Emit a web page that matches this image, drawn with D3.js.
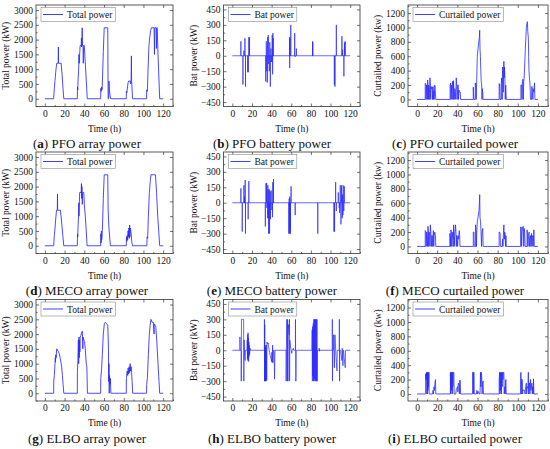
<!DOCTYPE html>
<html>
<head>
<meta charset="utf-8">
<script src="https://cdn.jsdelivr.net/npm/d3@7"></script>
<style>
  body { margin: 0; background: #fff; }
  svg, svg text { font-family: 'Liberation Serif', 'DejaVu Serif', serif !important; fill: #111; }
</style>
</head>
<body>
<svg id="chart" width="550" height="449" font-family="Liberation Serif"></svg>
<script>
// ---- data: [time h, power kW] ----
var pfoArray = [[0,0],[8.9,0],[9.6,350],[10.3,620],[11,900],[12,1200],[13.5,1200],[13.7,1750],[13.9,1200],[16.5,1200],[17.5,800],[18.4,350],[19.2,0],
  [32.9,0],[33.1,400],[33.4,300],[33.6,600],[34.3,1000],[34.6,1500],[34.9,1200],[35.3,1500],[35.8,1800],[36.8,1800],[37.1,2050],[37.3,1750],[37.9,2400],[38.2,1800],[38.7,1800],[39,1200],[39.4,1800],[40,1800],[40.5,1500],[41.2,1100],[42.2,500],[43,0],
  [56.6,0],[56.8,350],[57.2,250],[57.5,400],[58,300],[58.4,600],[59.3,1600],[60.2,2400],[63.8,2400],[64,1200],[64.2,0],[64.8,0],[65,600],[65.5,300],[66.2,100],[66.9,0],
  [82.6,0],[82.7,250],[83.2,200],[84,450],[84.5,550],[85,600],[86.5,600],[87,500],[87.5,650],[87.8,1450],[88,600],[88.5,300],[89,0],
  [103.2,0],[103.3,300],[104,250],[104.6,900],[105.6,1800],[106.5,2100],[107.3,2300],[108,2400],[110.8,2400],[111.2,1500],[111.5,2400],[112.8,2400],[113.2,1700],[113.5,2400],[114,2400],[114.8,1500],[115.7,700],[116.5,0],[120,0]]

var mecoArray = [[0,0],[8.9,0],[9.6,350],[10.3,600],[11,900],[11.8,1200],[12.6,1200],[12.8,1750],[13,1200],[15.8,1200],[17,800],[18.2,350],[19.2,0],
  [32.9,0],[33.1,400],[33.4,300],[33.7,700],[34.2,1000],[34.4,1450],[34.6,1000],[34.9,1300],[35.3,1800],[36.8,1800],[37.1,2100],[37.3,1600],[37.6,2000],[38,1400],[38.3,1800],[39.5,1800],[40,1400],[41,1000],[42,500],[42.8,0],
  [56.6,0],[56.8,400],[57.1,100],[57.3,500],[57.6,200],[58,300],[58.5,700],[59.3,1600],[60.2,2400],[63.8,2400],[64.2,1200],[65,600],[66.5,0],
  [82.6,0],[82.8,300],[83.2,150],[83.6,350],[84,200],[84.4,500],[84.8,300],[85.2,600],[85.6,250],[86,700],[86.3,300],[86.8,600],[87.5,400],[88.3,100],[89,0],
  [103.5,0],[103.7,300],[104.3,250],[105,1000],[106,1800],[107,2200],[107.6,2400],[112.2,2400],[113.3,1800],[114.5,1000],[115.5,500],[116.5,0],[120,0]]

var elboArray = [[0,0],[8.9,0],[9,400],[9.6,600],[10.3,1000],[10.6,1200],[10.8,1050],[11.1,1300],[11.4,1200],[12,1500],[12.5,1480],[13.5,1420],[14.5,1350],[15.5,1200],[16.3,1050],[17,900],[17.8,600],[18.5,300],[19.2,0],
  [32.9,0],[33,700],[33.5,1100],[34,1800],[34.3,1000],[34.6,1900],[34.9,1200],[35.2,1800],[35.5,1400],[35.8,1900],[36.5,1950],[37.2,2050],[38,2100],[38.5,1500],[38.8,1900],[39.5,1800],[40.3,1750],[41,1500],[42,1000],[42.6,900],[43.2,0],
  [56.6,0],[56.7,500],[57.5,800],[58.3,1300],[59.3,2000],[60.3,2350],[61.4,2400],[62.7,2350],[63.8,2300],[64.5,1600],[64.8,400],[65,1000],[65.3,0],[65.6,600],[66,300],[66.5,500],[67,0],
  [82.6,0],[82.7,500],[83.5,750],[84,600],[84.5,850],[85,650],[85.5,900],[86,700],[86.5,1000],[87,750],[87.5,900],[88,700],[88.5,400],[89.1,0],
  [103.2,0],[103.3,300],[104,500],[105,1300],[106,2000],[106.8,2300],[107.6,2500],[108.7,2400],[110,2400],[110.8,2000],[111,2350],[112,2300],[112.5,2250],[113.5,1800],[114.8,1000],[115.8,400],[116.5,0],[120,0]]

// battery spikes from the zero line: [time h, kW]
var pfoBat = [[8.7,140],[10.8,-280],[11.8,50],[12.8,170],[13.4,-300],[15.8,-160],[16.1,-160],[16.8,180],[17.5,180],
  [34,-250],[34.6,140],[35,-150],[35.6,-260],[36,180],[36.6,200],[37,-80],[37.6,-150],[38.1,130],[38.7,-300],[39.3,70],[39.6,-60],[40.3,-60],[40.6,200],[41,-180],[41.3,220],[41.6,170],
  [58.2,180],[58.4,-120],[58.6,170],[59.5,300],[63.5,220],[64,-10],[65.2,70],
  [81.7,140],[81.9,130],
  [103.9,-280],[104.5,-300],[105.9,300],[111.6,190],[112.3,60],[113.6,-200],[114.2,130],[115,140]]

var mecoBat = [[8.7,140],[10.1,-280],[11.8,170],[12.4,60],[13.1,220],[13.4,-300],[16.1,-160],[16.8,210],
  [33.6,-230],[34.3,190],[34.9,190],[35.2,-50],[35.9,-150],[36.2,170],[36.5,130],[36.9,-300],[37.2,-150],[37.6,130],[37.9,-300],[38.5,110],[38.9,-160],[39.5,120],[40.2,-70],[40.9,-140],[41.2,200],[41.9,230],
  [57.5,-300],[57.9,40],[58.2,-300],[58.5,60],[58.9,-250],[59.2,-300],[59.8,160],[64,-120],
  [87,-300],
  [103.5,-280],[104.1,-280],[105.2,200],[105.9,-80],[107.9,100],[108.9,-50],[109.3,-100],[109.9,170],[110.6,-210],[111.2,170],[111.9,-150],[112.2,80],[112.6,-120],[112.9,170],[113.5,-80],[114,160]]

var elboBat = [[0,0],[7.7,0],[7.7,130],[8,0],[9,0],[9.1,-300],[9.3,300],[11.5,300],[11.7,-300],[12,100],[12.5,-50],[13,-100],[13.4,0],
  [15,0],[15.2,100],[15.4,-80],[15.6,150],[15.8,-100],[16,170],[16.2,-90],[16.4,120],[16.6,-110],[16.8,80],[17,-60],[17.3,50],[17.6,-40],[18,20],[18.5,0],
  [32.6,0],[32.7,300],[32.8,-300],[33,250],[33.2,-300],[33.4,50],[33.6,-300],[33.8,30],[34,-300],[34.2,0],[34.4,-300],[34.6,50],[35,-290],[35.3,80],[36,60],[36.5,70],[37,30],[37.5,0],[38,-20],[38.5,-50],[39,-70],[39.5,-90],[40,-110],[40.3,-20],[40.6,-120],[41,50],[41.3,-120],[41.8,0],[42.5,0],[43,-280],[43.4,0],
  [54.8,0],[54.8,-300],[55,0],[55.5,300],[56,-300],[56.3,300],[56.6,-300],[57,250],[57.5,200],[58,150],[58.2,300],[58.3,-300],[58.5,100],[59,60],[59.5,20],[60,0],[60.5,-30],[61,0],[62.2,20],[62.5,0],[64.2,0],[64.3,300],[64.5,-300],[64.9,-300],[65.1,0],
  [81,0],[81.3,200],[81.5,-300],[81.8,230],[82.1,-250],[82.4,260],[82.7,-300],[83,300],[83.3,-300],[83.6,300],[83.9,-280],[84.2,300],[84.5,-300],[84.8,300],[85.2,-300],[85.5,300],[85.9,-300],[86.2,300],[86.4,-300],[86.6,0],[88.4,0],[88.5,20],[88.7,-10],[89,0],
  [101.8,0],[101.8,300],[102,-300],[102.2,0],[103,0],[103.2,150],[103.5,0],[103.9,-170],[104.2,0],[104.5,150],[105,50],[105.5,-50],[106,-120],[106.6,-200],[106.8,0],[108.8,0],[109,300],[109.2,-300],[109.4,0],[110.3,0],[111,-60],[111.6,-100],[111.9,20],[112.2,-30],[112.6,-150],[113,0],[113.3,0],[114,-80],[114.6,-140],[115,-170],[115.3,0],[120,0]]

var pfoCurt = [[0,0],[8.1,0],[8.1,220],[8.8,220],[9,0],[9.3,200],[9.8,150],[10.2,0],[10.5,270],[10.9,200],[11.2,0],[11.4,200],[11.8,150],[12.1,0],[12.8,300],[13.2,200],[13.5,0],[13.9,180],[14.5,150],[15,170],[15.3,0],[15.9,180],[16.2,0],[16.6,120],[17,0],[17.6,200],[18,150],[18.6,0],
  [32.8,0],[32.8,200],[33.4,230],[33.7,0],[34,200],[34.4,100],[34.8,0],[35.2,250],[35.6,200],[36,0],[36.2,260],[36.6,100],[36.9,0],[37.5,150],[38,100],[38.4,0],[38.9,300],[39.4,200],[39.8,0],[40.4,200],[40.9,200],[41.2,0],[41.6,130],[42.2,100],[42.9,100],[43.2,0],
  [55.8,0],[55.8,170],[56.4,0],[57.8,0],[57.8,230],[58.3,200],[58.7,0],[59.2,250],[59.8,600],[60.5,700],[61.2,800],[61.8,850],[62.2,960],[62.5,700],[62.9,600],[63.3,400],[63.7,250],[64.2,200],[64.5,0],[64.8,150],[65.2,100],[65.5,0],
  [81.5,0],[81.5,220],[82,200],[82.4,0],[83.5,0],[83.5,200],[84,300],[84.5,0],[84.9,450],[85.3,350],[85.6,100],[85.9,400],[86.2,530],[86.5,300],[86.8,450],[87.2,300],[87.6,0],[88,200],[88.6,0],
  [103.1,0],[103.1,200],[103.8,200],[104.2,0],[104.6,230],[105.1,280],[105.5,0],[105.9,250],[106.3,300],[106.8,450],[107.2,600],[107.8,800],[108.5,1000],[109,1050],[109.5,1080],[109.9,950],[110.5,850],[110.8,600],[111.1,400],[111.6,300],[112.2,200],[112.6,0],[113.6,0],[114,180],[114.5,100],[115,0],[115.3,150],[116,100],[116.6,230],[117,0],[120,0]]

var mecoCurt = [[0,0],[8.1,0],[8.1,220],[8.8,200],[9.1,0],[9.5,200],[10,150],[10.4,0],[10.8,280],[11.2,200],[11.5,0],[12,200],[12.5,150],[12.8,0],[13.2,300],[13.7,200],[14.2,0],[14.6,150],[15.2,150],[15.5,0],[16.2,220],[16.6,0],[17,150],[17.6,200],[18.2,150],[18.6,0],
  [32.5,0],[32.5,180],[33,150],[33.3,0],[33.6,230],[34.1,200],[34.4,0],[34.8,100],[35.5,200],[35.9,0],[36.3,300],[36.7,200],[37,0],[37.4,150],[38.2,300],[38.6,200],[39,0],[39.3,150],[39.9,100],[40.3,0],[40.6,150],[41.2,100],[41.9,220],[42.3,150],[42.6,0],
  [55.8,0],[55.8,200],[56.5,200],[56.8,0],[58.1,0],[58.1,300],[58.6,200],[59,0],[59.3,200],[59.8,350],[60.5,400],[61.5,500],[61.9,600],[62.2,720],[62.5,400],[63,350],[63.5,200],[64,0],[64.5,200],[65.2,250],[65.6,0],
  [81.5,0],[81.5,200],[82,200],[82.5,170],[82.8,0],[84.5,0],[84.9,100],[85.3,0],[85.8,200],[86.2,300],[86.6,100],[87,200],[87.4,170],[87.8,0],[88.2,150],[88.6,0],
  [102.8,0],[102.8,270],[103.5,270],[103.8,0],[104.3,200],[104.8,270],[105.5,280],[105.9,0],[106.4,250],[106.8,200],[107.3,0],[109.2,0],[109.2,230],[109.7,150],[110.1,0],[110.6,150],[111.2,200],[111.6,0],[112,100],[112.6,150],[113,0],[113.6,180],[114.1,0],[114.5,150],[114.9,150],[115.3,0],[116,230],[116.4,0],[120,0]]

var elboCurt = [[0,0],[8.5,0],[8.5,280],[9,200],[9.5,300],[9.8,0],[10,300],[10.3,0],[10.5,300],[10.8,50],[11,300],[11.3,100],[11.8,300],[12,0],[15.5,0],[15.8,50],[16.3,0],[16.9,100],[17.3,50],[17.7,150],[18.3,200],[18.6,0],
  [33.1,0],[33.1,300],[33.5,0],[33.7,300],[34,50],[34.3,300],[34.8,300],[35,0],[35.2,300],[35.6,100],[36,300],[36.5,300],[36.8,0],[38.5,0],[38.9,60],[39.5,80],[40.2,100],[40.5,30],[41,150],[41.6,120],[42,0],[42.3,190],[42.9,190],[43.2,0],
  [55.1,0],[55.1,300],[55.7,300],[56,0],[56.2,300],[56.5,300],[56.8,0],[59,0],[59.5,50],[60,0],[60.5,30],[61.2,30],[61.6,0],[62.5,0],[63,300],[63.4,100],[63.8,300],[64.2,250],[64.6,0],[65,150],[65.6,180],[65.9,0],
  [81.5,0],[81.5,200],[82,300],[82.3,0],[82.5,300],[83,50],[83.3,300],[83.8,0],[84,300],[84.5,100],[84.8,300],[85.3,200],[85.6,300],[86.2,300],[86.5,0],[87.2,100],[87.6,0],[87.8,150],[88.2,200],[88.5,0],
  [102.8,0],[102.8,280],[103.2,300],[103.5,0],[103.8,200],[104.5,200],[104.8,0],[105,60],[106,50],[106.8,50],[107.2,0],[107.8,100],[108.5,150],[108.8,0],[109.4,100],[110,80],[110.5,300],[110.8,0],[111.2,150],[111.6,150],[112,0],[112.3,150],[112.6,200],[113,50],[113.5,100],[114,150],[114.4,0],[114.7,100],[115,100],[115.3,0],[115.6,210],[116,0],[120,0]]

var timeTicks = [0, 20, 40, 60, 80, 100, 120]
var totalTicks = [0, 500, 1000, 1500, 2000, 2500, 3000]
var batTicks = [-450, -300, -150, 0, 150, 300, 450]
var curtTicks = [0, 200, 400, 600, 800, 1000, 1200]
var methods = ['PFO', 'MECO', 'ELBO']
var letters = ['a', 'b', 'c', 'd', 'e', 'f', 'g', 'h', 'i']

// ---- layout ----
var colLeft = [36, 223.5, 408]
var colWidth = [137, 136.5, 140]
var colCenter = [87, 272, 455]
var rowTop = [5, 152, 299.5]
var frameH = 101.5
var blue = '#2a2aff'
var serif = "'Liberation Serif', 'DejaVu Serif', serif"

var kinds = [
  { ticks: totalTicks, domain: [-262, 3170], title: 'Total power (kW)', legend: 'Total power', cap: 'array power', minor: 250, sw: 0.85 },
  { ticks: batTicks, domain: [-493, 493], title: 'Bat power (kW)', legend: 'Bat power', cap: 'battery power', minor: 75, sw: 0.7 },
  { ticks: curtTicks, domain: [-98, 1312], title: 'Curtailed power (kw)', legend: 'Curtailed power', cap: 'curtailed power', minor: 100, sw: 0.8 }
]

// expand zero-based spikes into a polyline
function spikeLine (list) {
  var pts = [[0, 0]]
  list.forEach(function (d) { pts.push([d[0], 0], [d[0], d[1]], [d[0], 0]) })
  pts.push([120, 0])
  return pts
}

var series = [
  [pfoArray, spikeLine(pfoBat), pfoCurt],
  [mecoArray, spikeLine(mecoBat), mecoCurt],
  [elboArray, elboBat, elboCurt]
]

var svg = d3.select('#chart')
var fmt = d3.format('d')

function range (a, b, step) { return d3.range(a, b + step / 2, step) }

series.forEach(function (rowSeries, r) {
  rowSeries.forEach(function (data, c) {
    var k = kinds[c]
    var L = colLeft[c], W = colWidth[c], T = rowTop[r], H = frameH
    var x = d3.scaleLinear().domain([-9, 130]).range([0, W])
    var y = d3.scaleLinear().domain(k.domain).range([H, 0])
    var g = svg.append('g').attr('transform', 'translate(' + L + ',' + T + ')')
    var id = 'clip' + r + c

    g.append('clipPath').attr('id', id).append('rect').attr('width', W).attr('height', H)

    g.append('path')
      .datum(data)
      .attr('clip-path', 'url(#' + id + ')')
      .attr('fill', 'none')
      .attr('stroke', blue)
      .attr('stroke-width', k.sw)
      .attr('stroke-linejoin', 'round')
      .attr('d', d3.line().x(function (d) { return x(d[0]) }).y(function (d) { return y(d[1]) }))

    // axes, ticks pointing inward
    var minorX = range(0, 130, 10).filter(function (v) { return timeTicks.indexOf(v) < 0 })
    var minorY = range(k.ticks[0] - k.minor * 2, k.domain[1], k.minor)
      .filter(function (v) { return k.ticks.indexOf(v) < 0 && v > k.domain[0] && v < k.domain[1] })

    function styleAxis (sel) {
      sel.attr('font-family', serif)
      sel.select('.domain').remove()
      sel.selectAll('line').attr('stroke', '#333').attr('stroke-width', 0.7)
      sel.selectAll('text').attr('font-size', '9.5px').attr('fill', '#111')
    }

    g.append('g').attr('transform', 'translate(0,' + H + ')')
      .call(d3.axisBottom(x).tickValues(timeTicks).tickFormat(fmt).tickSize(-3).tickSizeOuter(0).tickPadding(3.5))
      .call(styleAxis)
    g.append('g').attr('transform', 'translate(0,' + H + ')')
      .call(d3.axisBottom(x).tickValues(minorX).tickSize(-1.6).tickSizeOuter(0).tickFormat(''))
      .call(styleAxis)
    g.append('g')
      .call(d3.axisTop(x).tickValues(timeTicks).tickSize(-3).tickSizeOuter(0).tickFormat(''))
      .call(styleAxis)
    g.append('g')
      .call(d3.axisLeft(y).tickValues(k.ticks).tickFormat(fmt).tickSize(-3).tickSizeOuter(0).tickPadding(3))
      .call(styleAxis)
    g.append('g')
      .call(d3.axisLeft(y).tickValues(minorY).tickSize(-1.6).tickSizeOuter(0).tickFormat(''))
      .call(styleAxis)
    g.append('g').attr('transform', 'translate(' + W + ',0)')
      .call(d3.axisRight(y).tickValues(k.ticks).tickSize(-3).tickSizeOuter(0).tickFormat(''))
      .call(styleAxis)

    g.append('rect')
      .attr('width', W).attr('height', H)
      .attr('fill', 'none').attr('stroke', '#333').attr('stroke-width', 0.8)

    // legend
    var lg = g.append('g').attr('transform', 'translate(5,2.5)')
    var box = lg.append('rect').attr('height', 14).attr('fill', '#fff')
      .attr('stroke', '#8a8a8a').attr('stroke-width', 0.6)
    lg.append('line').attr('x1', 2).attr('x2', 22).attr('y1', 7).attr('y2', 7)
      .attr('stroke', blue).attr('stroke-width', 0.9)
    var lt = lg.append('text').attr('x', 26).attr('y', 10.5)
      .attr('font-family', serif).attr('font-size', '9.5px').text(k.legend)
    box.attr('width', 26 + lt.node().getComputedTextLength() + 3)

    // axis titles
    g.append('text')
      .attr('x', W / 2).attr('y', H + 25)
      .attr('text-anchor', 'middle').attr('font-family', serif).attr('font-size', '9.5px')
      .text('Time (h)')
    g.append('text')
      .attr('transform', 'translate(-27,' + (H / 2) + ') rotate(-90)')
      .attr('text-anchor', 'middle').attr('font-family', serif).attr('font-size', '9.5px')
      .text(k.title)

    // caption
    var cap = svg.append('text')
      .attr('x', colCenter[c]).attr('y', T + H + 41.5)
      .attr('text-anchor', 'middle').attr('font-family', serif).attr('font-size', '13px')
    cap.append('tspan').text('(')
    cap.append('tspan').attr('font-weight', 'bold').text(letters[r * 3 + c])
    cap.append('tspan').text(') ' + methods[r] + ' ' + k.cap)
  })
})
</script>
</body>
</html>
